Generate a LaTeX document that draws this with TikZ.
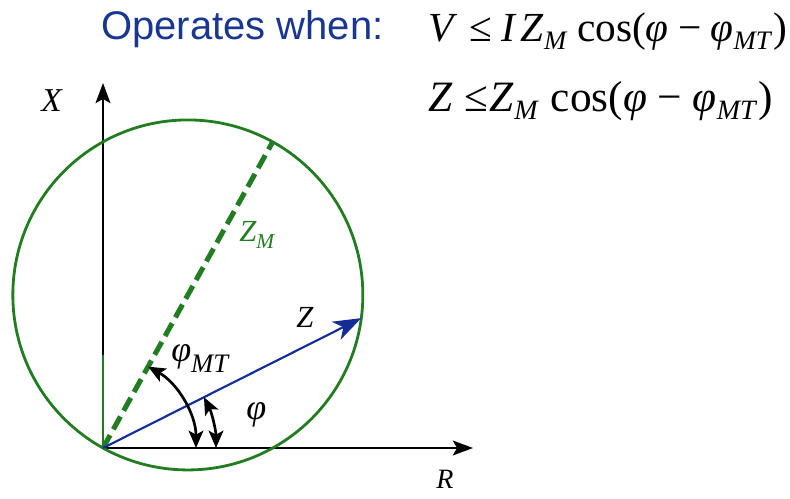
\documentclass[tikz,border=0pt]{standalone}
\usepackage{fontspec}
\setmainfont{Liberation Serif}[ItalicFont={Liberation Serif Italic}]
\newfontfamily\titlefont{Liberation Sans}
\usetikzlibrary{arrows.meta,calc}
\definecolor{cgreen}{RGB}{34,125,34}
\definecolor{cblue}{RGB}{20,45,150}
\definecolor{tblue}{RGB}{25,55,145}
\newcommand{\fs}[1]{\fontsize{#1}{#1}\selectfont}
\newcommand{\lowsub}[3]{\raisebox{-#2pt}{\fs{#1}\itshape #3}}
\begin{document}
\begin{tikzpicture}[x=0.75pt,y=-0.75pt,
  lbl/.style={inner sep=0pt, anchor=base west},
  axis/.style={black, line width=2pt, -{Stealth[length=15pt,width=11pt,inset=3pt]}},
  circ/.style={cgreen, line width=2.1pt},
  zmline/.style={cgreen, line width=3.8pt, dash pattern=on 11pt off 5pt},
  zarrow/.style={cblue, line width=1.6pt, -{Stealth[length=21pt,width=15pt,inset=6pt]}},
  angarr/.style={black, line width=2pt, {Stealth[length=13pt,width=11pt,inset=3pt]}-{Stealth[length=13pt,width=11pt,inset=3pt]}}]
\useasboundingbox (0,0) rectangle (790,499);
% title and formulas
\node[lbl, font=\titlefont\fs{30}, text=tblue] (title) at (101,40) {Operates when:};
\node[lbl, font=\fs{31}] (eq1) at (428,42) {\textit{V}\hspace{9pt}≤\hspace{7pt}\textit{I}\hspace{3pt}\textit{Z}\lowsub{20}{6}{M}\hspace{8pt}cos(\textit{φ}\hspace{7pt}−\hspace{7pt}\textit{φ}\lowsub{20}{6}{MT}\hspace{2pt})};
\node[lbl, font=\fs{32.5}] (eq2) at (428,112) {\textit{Z}\hspace{9pt}≤\hspace{1pt}\textit{Z}\lowsub{21}{6}{M}\hspace{10pt}cos(\textit{φ}\hspace{8pt}−\hspace{8pt}\textit{φ}\lowsub{21}{6}{MT}\hspace{2pt})};
% geometry
\coordinate (O) at (103,448);
\coordinate (Xt) at (103,83);
\coordinate (Rt) at (473,448);
\coordinate (Xg) at (103,355);
\coordinate (C) at ($(O)+(-61:175)$);
\coordinate (D) at ($(O)+(-61:350)$);
\coordinate (Zt) at ($(O)+(-26.7:289.1)$);
\coordinate (A1) at ($(O)+(0:93)$);
\coordinate (A2) at ($(O)+(0:113)$);
\draw[axis] (O) -- (Xt);
\draw[axis] (O) -- (Rt);
\draw[circ] (C) circle[radius=175];
\draw[cgreen, line width=2pt] (O) -- (Xg);
\draw[zmline] (O) -- (D);
\draw[zarrow] (O) -- (Zt);
\draw[angarr] (A1) arc[start angle=0, end angle=-61, radius=93];
\draw[angarr] (A2) arc[start angle=0, end angle=-26.7, radius=113];
% labels
\node[lbl, font=\fs{25}\itshape] (xl) at (41,112) {X};
\node[lbl, font=\fs{21}\itshape] (rl) at (436,488) {R};
\node[lbl, font=\fs{23}\itshape] (zl) at (296,328) {Z};
\node[lbl, font=\fs{23}\itshape, text=cgreen] (zml) at (239,242) {Z\lowsub{16}{5}{M}};
\node[lbl, font=\fs{27}\itshape] (phimt) at (171,362) {φ\lowsub{20}{8}{MT}};
\node[lbl, font=\fs{27}\itshape] (phil) at (246,420) {φ};
\end{tikzpicture}
\end{document}
